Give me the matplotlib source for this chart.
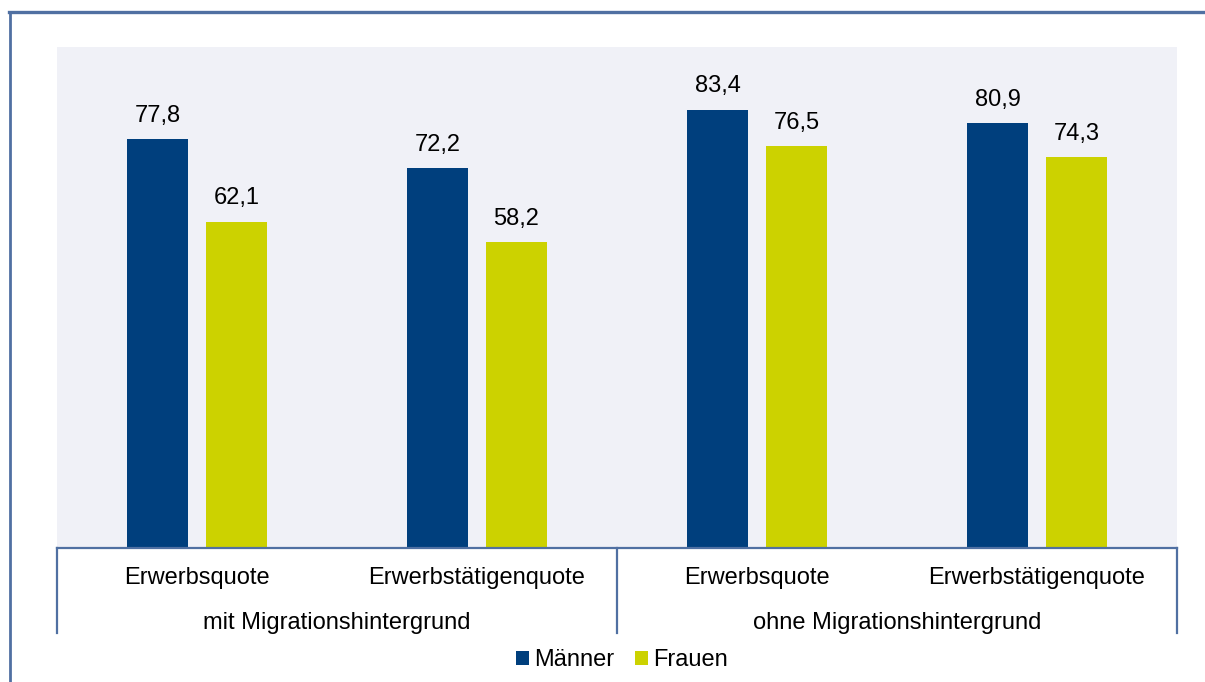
import matplotlib
matplotlib.use("Agg")
import matplotlib.pyplot as plt
from matplotlib.lines import Line2D
from matplotlib.patches import Patch

# ---- data ----
categories = ["Erwerbsquote", "Erwerbstätigenquote", "Erwerbsquote", "Erwerbstätigenquote"]
groups = ["mit Migrationshintergrund", "ohne Migrationshintergrund"]
maenner = [77.8, 72.2, 83.4, 80.9]
frauen = [62.1, 58.2, 76.5, 74.3]
series_names = ["Männer", "Frauen"]

# ---- style ----
W, H = 1205, 682
DPI = 100
C_BLUE = "#003F7D"
C_YELLOW = "#CCD200"
C_BG = "#F0F1F7"
C_LINE = "#5070A2"
FS = 17
plt.rcParams["font.family"] = ["Liberation Sans", "DejaVu Sans"]

fig = plt.figure(figsize=(W / DPI, H / DPI), dpi=DPI)

def fx(px):
    return px / W

def fy(py):
    return 1 - py / H

ax_l, ax_r, ax_t, ax_b = 57, 1177, 47, 548
ax = fig.add_axes([fx(ax_l), fy(ax_b), fx(ax_r - ax_l), (ax_b - ax_t) / H])
ax.set_facecolor(C_BG)
ax.set_xlim(0, len(categories))
ax.set_ylim(0, 95.3)

x = [i + 0.5 for i in range(len(categories))]
bw = 0.221
off = 0.141
b1 = ax.bar([v - off for v in x], maenner, width=bw, color=C_BLUE, zorder=2)
b2 = ax.bar([v + off for v in x], frauen, width=bw, color=C_YELLOW, zorder=2)

for bars, vals in ((b1, maenner), (b2, frauen)):
    for rect, v in zip(bars, vals):
        ax.annotate(f"{v:.1f}".replace(".", ","),
                    (rect.get_x() + rect.get_width() / 2, v),
                    xytext=(0, 12.3), textcoords="offset points",
                    ha="center", va="baseline", fontsize=FS, color="black")

for s in ("top", "left", "right"):
    ax.spines[s].set_visible(False)
ax.spines["bottom"].set_color(C_LINE)
ax.spines["bottom"].set_linewidth(1.6)
ax.set_xticks([])
ax.set_yticks([])

# category labels
for xi, lab in zip(x, categories):
    ax.text(xi, 0, lab, transform=ax.get_xaxis_transform(), fontsize=FS,
            ha="center", va="baseline")
# shift via offset: place with figure coords instead
for t in list(ax.texts)[-len(categories):]:
    t.remove()
for i, lab in enumerate(categories):
    px = ax_l + (ax_r - ax_l) * (i + 0.5) / len(categories)
    fig.text(fx(px), fy(584), lab, fontsize=FS, ha="center", va="baseline")
for g, lab in enumerate(groups):
    px = ax_l + (ax_r - ax_l) * (2 * g + 1) / len(categories)
    fig.text(fx(px), fy(629), lab, fontsize=FS, ha="center", va="baseline")

# separators
for px in (ax_l, (ax_l + ax_r) / 2, ax_r):
    fig.add_artist(Line2D([fx(px), fx(px)], [fy(ax_b), fy(633)], color=C_LINE, lw=1.6))

# outer frame (top and left)
fig.add_artist(Line2D([fx(9), fx(W + 5)], [fy(11.5), fy(11.5)], color=C_LINE, lw=2.4))
fig.add_artist(Line2D([fx(10), fx(10)], [fy(11.5), fy(H + 5)], color=C_LINE, lw=2.0))

# legend
handles = [Patch(facecolor=C_BLUE), Patch(facecolor=C_YELLOW)]
fig.legend(handles, series_names, loc="center", bbox_to_anchor=(fx(622), fy(660)),
           ncol=2, frameon=False, fontsize=FS, handlelength=0.55, handleheight=0.55,
           handletextpad=0.22, columnspacing=0.9, borderpad=0, borderaxespad=0)

fig.savefig("out.png", dpi=DPI)
